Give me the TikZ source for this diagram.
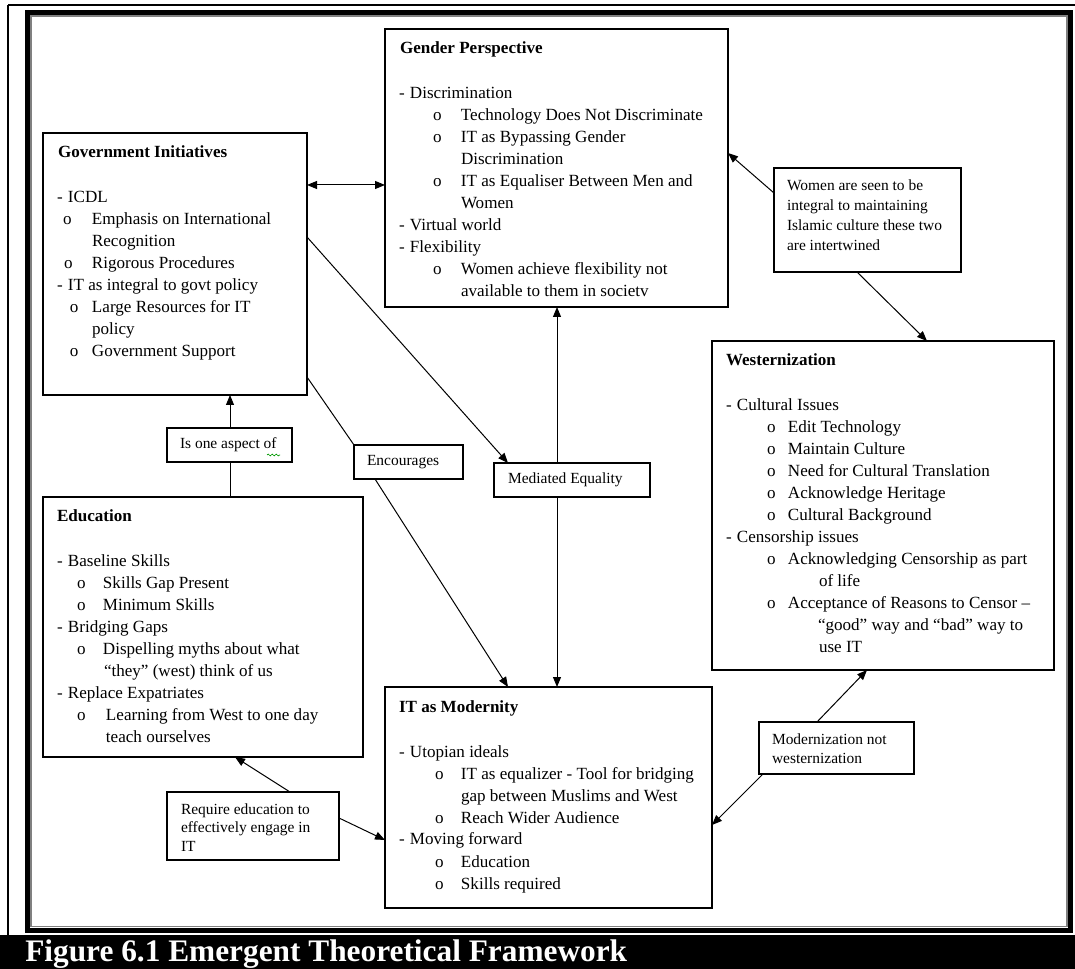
\documentclass[tikz,border=0pt]{standalone}
\usepackage{fontspec}
\setmainfont{Liberation Serif}
\usetikzlibrary{arrows.meta,decorations.pathmorphing}
\newlength\px \setlength\px{0.75pt}
% marker at offset #1, text at offset #3
\newcommand\Mk[4]{\leavevmode\rlap{\hspace*{#1\px}#2}\rlap{\hspace*{#3\px}#4}}
\newcommand\Ct[2]{\leavevmode\rlap{\hspace*{#1\px}#2}}
\newcommand\Ttl[2]{\leavevmode\rlap{\hspace*{#1\px}\textbf{#2}}\rule{0pt}{25\px}}
% main box: width, height, content
\newcommand\Bx[3]{\parbox[t][#2\px][t]{#1\px}{\fontsize{12.8pt}{22\px}\selectfont\lineskiplimit=-100pt #3}}
% label box: width, height, first baseline, pitch, content
\newcommand\Lb[5]{\parbox[t][#2\px][t]{#1\px}{\fontsize{11.6pt}{#4\px}\selectfont\lineskiplimit=-100pt\leavevmode\rule{0pt}{#3\px}#5}}
\begin{document}
\begin{tikzpicture}[x=0.75pt,y=-0.75pt,
  boxst/.style={draw=black, line width=0.9pt, fill=white, inner sep=0pt, outer sep=0pt, anchor=north west},
  conn/.style={draw=black, line width=0.75pt},
  arr/.style={conn, -{Triangle[length=7.5pt,width=6pt]}},
  darr/.style={conn, {Triangle[length=7.5pt,width=6pt]}-{Triangle[length=7.5pt,width=6pt]}}]
\useasboundingbox (0,0) rectangle (1075,969);
% frames
\draw[line width=1.5pt] (8,5.5) -- (1075,5.5);
\draw[line width=1.5pt] (8,5.5) -- (8,935);
\draw[line width=3.75pt] (27.5,12.5) rectangle (1070.5,930);
\draw[gray, line width=1.2pt] (31,16) rectangle (1067,926.5);
\fill[black] (0,935) rectangle (1075,969);
\node[anchor=base west, inner sep=0pt, text=white, font=\fontsize{23.5pt}{28pt}\selectfont\bfseries] (cap) at (25,961.5) {Figure 6.1 Emergent Theoretical Framework};

% main boxes
\node[boxst] (gov) at (43,133) {\Bx{264}{262}{%
\Ttl{15}{Government Initiatives}\\[23\px]
\Mk{14}{-}{25}{ICDL}\\
\Mk{20}{o}{49}{Emphasis on International}\\
\Ct{49}{Recognition}\\
\Mk{21}{o}{49}{Rigorous Procedures}\\
\Mk{14}{-}{25}{IT as integral to govt policy}\\
\Mk{27}{o}{49}{Large Resources for IT}\\
\Ct{49}{policy}\\
\Mk{27}{o}{49}{Government Support}}};

\node[boxst] (gen) at (385,29) {\Bx{343}{278}{%
\Ttl{15}{Gender Perspective}\\[23\px]
\Mk{14}{-}{25}{Discrimination}\\
\Mk{48}{o}{76}{Technology Does Not Discriminate}\\
\Mk{48}{o}{76}{IT as Bypassing Gender}\\
\Ct{76}{Discrimination}\\
\Mk{48}{o}{76}{IT as Equaliser Between Men and}\\
\Ct{76}{Women}\\
\Mk{14}{-}{25}{Virtual world}\\
\Mk{14}{-}{25}{Flexibility}\\
\Mk{48}{o}{76}{Women achieve flexibility not}\\
\Ct{76}{available to them in societv}}};

\node[boxst] (west) at (712,341) {\Bx{342}{329}{%
\Ttl{14}{Westernization}\\[23\px]
\Mk{14}{-}{25}{Cultural Issues}\\
\Mk{55}{o}{76}{Edit Technology}\\
\Mk{55}{o}{76}{Maintain Culture}\\
\Mk{55}{o}{76}{Need for Cultural Translation}\\
\Mk{55}{o}{76}{Acknowledge Heritage}\\
\Mk{55}{o}{76}{Cultural Background}\\
\Mk{14}{-}{25}{Censorship issues}\\
\Mk{55}{o}{76}{Acknowledging Censorship as part}\\
\Ct{107}{of life}\\
\Mk{55}{o}{76}{Acceptance of Reasons to Censor –}\\
\Ct{106}{“good” way and “bad” way to}\\
\Ct{107}{use IT}}};

\node[boxst] (edu) at (43,497) {\Bx{320}{260}{%
\Ttl{14}{Education}\\[23\px]
\Mk{14}{-}{25}{Baseline Skills}\\
\Mk{34}{o}{60}{Skills Gap Present}\\
\Mk{34}{o}{60}{Minimum Skills}\\
\Mk{14}{-}{25}{Bridging Gaps}\\
\Mk{34}{o}{60}{Dispelling myths about what}\\
\Ct{61}{“they” (west) think of us}\\
\Mk{14}{-}{25}{Replace Expatriates}\\
\Mk{34}{o}{63}{Learning from West to one day}\\
\Ct{63}{teach ourselves}}};

\node[boxst] (it) at (385,687) {\Bx{327}{221}{%
\Ttl{14}{IT as Modernity}\\[23\px]
\Mk{14}{-}{25}{Utopian ideals}\\
\Mk{50}{o}{76}{IT as equalizer - Tool for bridging}\\
\Ct{76}{gap between Muslims and West}\\
\Mk{50}{o}{76}{Reach Wider Audience}\\
\Mk{14}{-}{25}{Moving forward}\\
\Mk{50}{o}{76}{Education}\\
\Mk{50}{o}{76}{Skills required}}};

% label boxes
\node[boxst] (wom) at (774,168) {\Lb{187}{104}{23}{20}{%
\Ct{13}{Women are seen to be}\\
\Ct{13}{integral to maintaining}\\
\Ct{13}{Islamic culture these two}\\
\Ct{13}{are intertwined}}};
\node[boxst] (isone) at (167,428) {\Lb{125}{34}{21}{20}{\Ct{13}{Is one aspect of}}};
\node[boxst] (enc) at (354,445) {\Lb{109}{34}{21}{20}{\Ct{13}{Encourages}}};
\node[boxst] (med) at (494,463) {\Lb{156}{34}{21}{20}{\Ct{14}{Mediated Equality}}};
\node[boxst] (req) at (167,792) {\Lb{172}{68}{22}{18.5}{%
\Ct{14}{Require education to}\\
\Ct{14}{effectively engage in}\\
\Ct{14}{IT}}};
\node[boxst] (mod) at (759,722) {\Lb{155}{52}{22}{19}{%
\Ct{13}{Modernization not}\\
\Ct{13}{westernization}}};

% spell-check squiggle
\draw[green!60!black, line width=0.5pt, decorate, decoration={snake, amplitude=0.7pt, segment length=3pt}] (267,455) -- (280,455);

% connectors
\draw[darr] (gov.east |- 0,185) -- (gen.west |- 0,185);
\draw[arr] (gov.east |- 0,237) -- (med.north -| 508,0);
\draw[conn] (gov.east |- 0,377) -- (enc.north west);
\draw[arr] (enc.south -| 375,0) -- (it.north -| 508,0);
\draw[arr] (med.north -| 557,0) -- (gen.south -| 557,0);
\draw[arr] (med.south -| 557,0) -- (it.north -| 557,0);
\draw[arr] (wom.west |- 0,193) -- (gen.east |- 0,153);
\draw[arr] (wom.south -| 857,0) -- (west.north -| 927,0);
\draw[conn] (edu.north -| 230,0) -- (isone.south -| 230,0);
\draw[arr] (isone.north -| 230,0) -- (gov.south -| 230,0);
\draw[arr] (req.north -| 290,0) -- (edu.south -| 235,0);
\draw[arr] (req.east |- 0,818) -- (it.west |- 0,840);
\draw[arr] (mod.north -| 817,0) -- (west.south -| 867,0);
\draw[arr] (mod.south -| 763,0) -- (it.east |- 0,825);
\end{tikzpicture}
\end{document}
